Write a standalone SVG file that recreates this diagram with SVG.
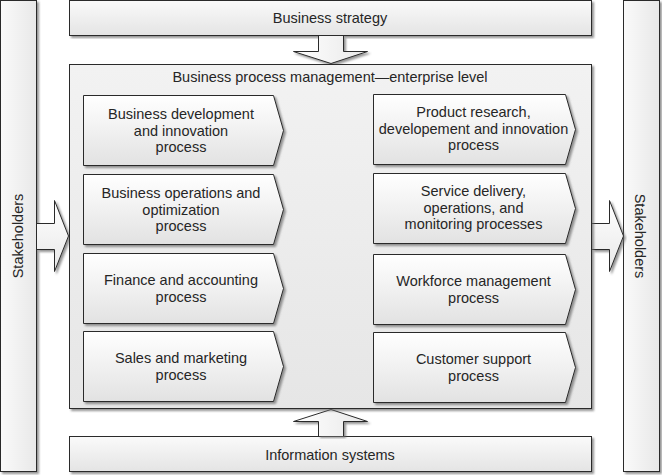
<svg xmlns="http://www.w3.org/2000/svg" width="662" height="475" viewBox="0 0 662 475">
<defs>
<linearGradient id="gBox" x1="0" y1="0" x2="0" y2="1"><stop offset="0" stop-color="#fafafa"/><stop offset="1" stop-color="#e4e4e4"/></linearGradient>
<linearGradient id="gMain" x1="0" y1="0" x2="0" y2="1"><stop offset="0" stop-color="#f2f2f2"/><stop offset="1" stop-color="#e6e6e6"/></linearGradient>
<linearGradient id="gChev" x1="0" y1="0" x2="0" y2="1"><stop offset="0" stop-color="#ffffff"/><stop offset="1" stop-color="#e2e2e2"/></linearGradient>
<linearGradient id="gBarL" x1="0" y1="0" x2="1" y2="0"><stop offset="0" stop-color="#fafafa"/><stop offset="1" stop-color="#e8e8e8"/></linearGradient>
<linearGradient id="gArrV" x1="0" y1="0" x2="1" y2="0"><stop offset="0" stop-color="#ffffff"/><stop offset="1" stop-color="#e8e8e8"/></linearGradient>
<linearGradient id="gArrH" x1="0" y1="0" x2="0" y2="1"><stop offset="0" stop-color="#ffffff"/><stop offset="1" stop-color="#e8e8e8"/></linearGradient>
<filter id="sh" x="-5%" y="-5%" width="115%" height="115%"><feDropShadow dx="2" dy="2" stdDeviation="0.8" flood-color="#666" flood-opacity="0.7"/></filter>
</defs>
<style>
.box{stroke:#2a2a2a;stroke-width:1;filter:url(#sh)}
.chev{fill:url(#gChev);stroke:#2a2a2a;stroke-width:1;filter:url(#sh)}
.arr{stroke:#2a2a2a;stroke-width:1;filter:url(#sh)}
text{font-family:"Liberation Sans",Arial,sans-serif;font-size:14.5px;fill:#262626;text-anchor:middle}
</style>
<g id="stakeholders-left">
<rect class="box" x="0.5" y="0.5" width="36" height="471" fill="url(#gBarL)"/>
<text transform="translate(23,236) rotate(-90)">Stakeholders</text>
</g>
<g id="stakeholders-right">
<rect class="box" x="623.5" y="0.5" width="36" height="471" fill="url(#gBarL)"/>
<text transform="translate(635,236) rotate(90)">Stakeholders</text>
</g>
<g id="business-strategy">
<rect class="box" x="69.5" y="0.5" width="522" height="35" fill="url(#gBox)"/>
<text x="330" y="23">Business strategy</text>
</g>
<g id="information-systems">
<rect class="box" x="69.5" y="436.5" width="522" height="35" fill="url(#gBox)"/>
<text x="330" y="459.5">Information systems</text>
</g>
<g id="connectors">
<path class="arr" fill="url(#gArrV)" d="M318.5,36 V51.5 H293.5 L331,63.5 L367.5,51.5 H343.5 V36"/>
<path class="arr" fill="url(#gArrV)" d="M318.5,436 V421.5 H293.5 L331,409.5 L367.5,421.5 H343.5 V436"/>
<path class="arr" fill="url(#gArrH)" d="M37,223.5 H54.5 V200.5 L68.5,236 L54.5,271.5 V249.5 H37"/>
<path class="arr" fill="url(#gArrH)" d="M592,223.5 H609.5 V200.5 L623.5,236 L609.5,271.5 V249.5 H592"/>
</g>
<g id="bpm-enterprise">
<rect class="box" x="69.5" y="64.5" width="522" height="344" fill="url(#gMain)"/>
<text x="330" y="82">Business process management—enterprise level</text>
</g>
<g id="p-business-development">
<path class="chev" d="M83.5,95.5 H273.5 L283.5,130.5 L273.5,165.5 H83.5 Z"/>
<text x="181" y="119">Business development</text>
<text x="181" y="135.5">and innovation</text>
<text x="181" y="152">process</text>
</g>
<g id="p-business-operations">
<path class="chev" d="M83.5,174.5 H273.5 L283.5,209.5 L273.5,244.5 H83.5 Z"/>
<text x="181" y="198">Business operations and</text>
<text x="181" y="214.5">optimization</text>
<text x="181" y="231">process</text>
</g>
<g id="p-finance">
<path class="chev" d="M83.5,253.5 H273.5 L283.5,288.5 L273.5,323.5 H83.5 Z"/>
<text x="181" y="285">Finance and accounting</text>
<text x="181" y="301.5">process</text>
</g>
<g id="p-sales">
<path class="chev" d="M83.5,331.5 H273.5 L283.5,366.5 L273.5,401.5 H83.5 Z"/>
<text x="181" y="363">Sales and marketing</text>
<text x="181" y="379.5">process</text>
</g>
<g id="p-product-research">
<path class="chev" d="M373.5,94.5 H565.5 L575.5,129.5 L565.5,164.5 H373.5 Z"/>
<text x="473.5" y="117">Product research,</text>
<text x="473.5" y="133.5">developement and innovation</text>
<text x="473.5" y="150">process</text>
</g>
<g id="p-service-delivery">
<path class="chev" d="M373.5,173.5 H565.5 L575.5,208.5 L565.5,243.5 H373.5 Z"/>
<text x="473.5" y="196">Service delivery,</text>
<text x="473.5" y="212.5">operations, and</text>
<text x="473.5" y="229">monitoring processes</text>
</g>
<g id="p-workforce">
<path class="chev" d="M373.5,254.5 H565.5 L575.5,289.5 L565.5,324.5 H373.5 Z"/>
<text x="473.5" y="286">Workforce management</text>
<text x="473.5" y="302.5">process</text>
</g>
<g id="p-customer-support">
<path class="chev" d="M373.5,332.5 H565.5 L575.5,367.5 L565.5,402.5 H373.5 Z"/>
<text x="473.5" y="364">Customer support</text>
<text x="473.5" y="380.5">process</text>
</g>
</svg>
